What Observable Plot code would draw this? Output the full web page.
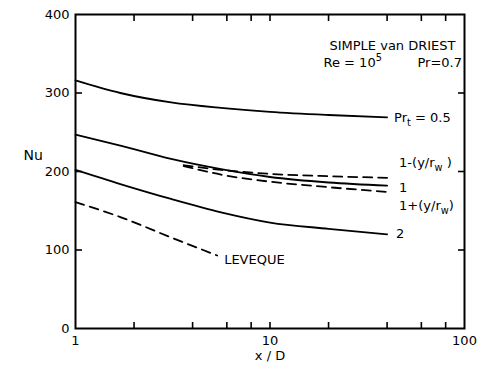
<!DOCTYPE html>
<html><head><meta charset="utf-8">
<script src="https://cdn.jsdelivr.net/npm/d3@7"></script>
<script src="https://cdn.jsdelivr.net/npm/@observablehq/plot@0.6"></script>
<style>body{margin:0;background:#fff} #chart svg{font-family:"DejaVu Sans",sans-serif}</style>
</head><body><div id="chart"></div>
<script>
// Data
const xPts = [1, 1.7, 3.1, 5.6, 10, 20, 40];
const nuPrt05 = [316, 300, 288, 281, 276, 272, 269];
const nuPrt1 = [247, 233, 216, 203, 193, 186, 182];
const nuPrt2 = [202, 184, 165, 148, 135, 127, 120];
const xWall = [3.6, 5.6, 10, 20, 40];
const nuMinus = [208, 202, 197, 194, 192];
const nuPlus = [207, 196, 187, 180, 174];
const xLev = [1, 1.7, 3.1, 5.35];
const nuLev = [161, 142, 116, 93];
const xMinorTicks = [2, 4, 6, 8, 10, 20, 40, 60, 80];
const xTickLabels = [1, 10, 100];
const yMinorTicks = [100, 200, 300];
const yTickLabels = [0, 100, 200, 300, 400];
const seriesNames = ["Pr_t = 0.5", "1", "2", "1-(y/r_w )", "1+(y/r_w)", "LEVEQUE"];
const titleText = "SIMPLE van DRIEST";
const reText = "Re = 10^5";
const prText = "Pr=0.7";

const seriesDefs = [
  {name: seriesNames[0], xs: xPts, ys: nuPrt05, dashed: false, dx: 7, dy: 0},
  {name: seriesNames[1], xs: xPts, ys: nuPrt1, dashed: false, dx: 12, dy: 2},
  {name: seriesNames[2], xs: xPts, ys: nuPrt2, dashed: false, dx: 9, dy: 0},
  {name: seriesNames[3], xs: xWall, ys: nuMinus, dashed: true, dx: 12, dy: -15},
  {name: seriesNames[4], xs: xWall, ys: nuPlus, dashed: true, dx: 12, dy: 14},
  {name: seriesNames[5], xs: xLev, ys: nuLev, dashed: true, dx: 7, dy: 4}
];
const rows = seriesDefs.flatMap(s => s.xs.map((x, i) => ({name: s.name, x, y: s.ys[i], dashed: s.dashed})));
const solidRows = rows.filter(d => !d.dashed);
const dashedRows = rows.filter(d => d.dashed);

const labelMarks = seriesDefs.map(s => Plot.text([{x: s.xs[s.xs.length - 1], y: s.ys[s.ys.length - 1], t: s.name}], {
  x: "x", y: "y", text: "t", textAnchor: "start", dx: s.dx, dy: s.dy, fontSize: 13, fill: "black"
}));

const plot = Plot.plot({
  width: 482, height: 366,
  marginLeft: 75, marginRight: 18, marginTop: 14, marginBottom: 38,
  style: {fontSize: "13px"},
  x: {type: "log", domain: [1, 100], label: null},
  y: {domain: [0, 400], label: null},
  marks: [
    Plot.frame({stroke: "black", strokeWidth: 2}),
    Plot.axisX({anchor: "bottom", ticks: xMinorTicks, tickSize: -6, tickFormat: () => "", stroke: "black", strokeWidth: 1.6}),
    Plot.axisX({anchor: "top", ticks: xMinorTicks, tickSize: -6, tickFormat: () => "", stroke: "black", strokeWidth: 1.6}),
    Plot.axisY({anchor: "left", ticks: yMinorTicks, tickSize: -7, tickFormat: () => "", stroke: "black", strokeWidth: 1.6}),
    Plot.axisY({anchor: "right", ticks: yMinorTicks, tickSize: -7, tickFormat: () => "", stroke: "black", strokeWidth: 1.6}),
    Plot.axisX({anchor: "bottom", ticks: xTickLabels, tickSize: 0, tickPadding: 7, tickFormat: d => String(d), fontSize: 13}),
    Plot.axisY({anchor: "left", ticks: yTickLabels, tickSize: 0, tickPadding: 6, tickFormat: d => String(d), fontSize: 13}),
    Plot.line(solidRows, {x: "x", y: "y", z: "name", stroke: "black", strokeWidth: 1.8, curve: "monotone-x"}),
    Plot.line(dashedRows, {x: "x", y: "y", z: "name", stroke: "black", strokeWidth: 1.8, strokeDasharray: "9,6", curve: "monotone-x"}),
    ...labelMarks,
    Plot.text([titleText], {frameAnchor: "top-right", text: d => d, textAnchor: "end", lineAnchor: "top", dx: -9, dy: 26, fontSize: 13}),
    Plot.text([reText], {frameAnchor: "top-right", text: d => d, textAnchor: "start", lineAnchor: "top", dx: -141, dy: 43, fontSize: 13}),
    Plot.text([prText], {frameAnchor: "top-right", text: d => d, textAnchor: "start", lineAnchor: "top", dx: -47, dy: 43, fontSize: 13}),
    Plot.text(["Nu"], {frameAnchor: "left", text: d => d, dx: -52, dy: -16, fontSize: 14}),
    Plot.text(["x / D"], {frameAnchor: "bottom", text: d => d, dx: 0, dy: 31, fontSize: 13})
  ]
});

// Render _x as subscript and ^x as superscript
function richify(el) {
  const s = el.textContent;
  if (!/[_^]/.test(s)) return;
  el.textContent = "";
  const ns = "http://www.w3.org/2000/svg";
  const re = /([_^])(\w)|([^_^]+)/g;
  let m, shift = 0;
  while ((m = re.exec(s))) {
    const t = document.createElementNS(ns, "tspan");
    if (m[1]) {
      const target = m[1] === "_" ? 4 : -6;
      t.setAttribute("dy", target - shift);
      t.setAttribute("font-size", "75%");
      t.textContent = m[2];
      shift = target;
    } else {
      if (shift) t.setAttribute("dy", -shift);
      shift = 0;
      t.textContent = m[3];
    }
    el.appendChild(t);
  }
}
plot.querySelectorAll("text").forEach(richify);
document.getElementById("chart").appendChild(plot);
</script>
</body></html>
